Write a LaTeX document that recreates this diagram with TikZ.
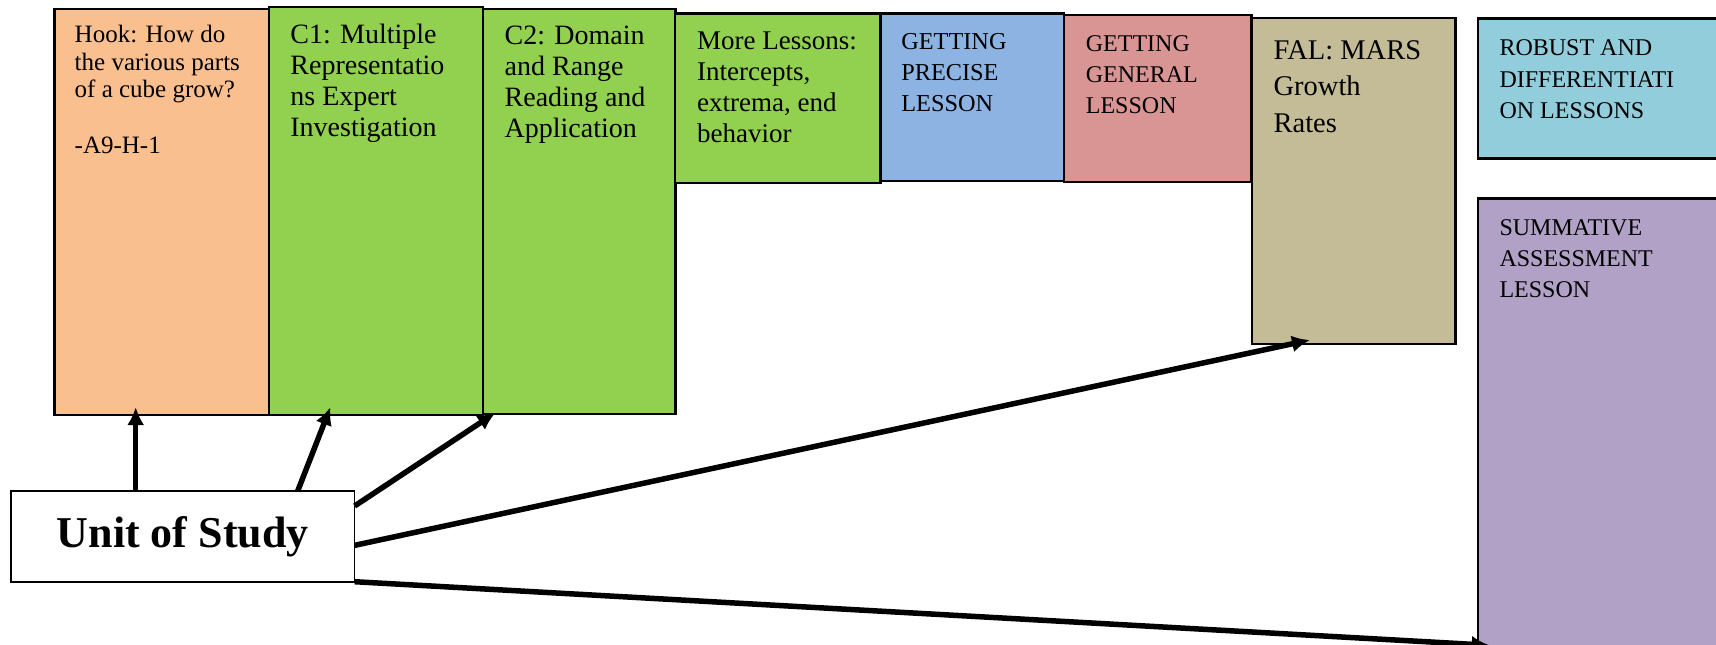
\documentclass[tikz,border=0pt]{standalone}
\usepackage{fontspec}
\setmainfont{Liberation Serif}
\usepackage{xcolor}
\usetikzlibrary{arrows.meta, positioning, calc}

\definecolor{hookcol}{HTML}{FABF8F}
\definecolor{greencol}{HTML}{92D050}
\definecolor{precisecol}{HTML}{8DB3E2}
\definecolor{generalcol}{HTML}{D99594}
\definecolor{falcol}{HTML}{C4BC96}
\definecolor{robustcol}{HTML}{92CDDC}
\definecolor{summcol}{HTML}{B2A1C7}

\begin{document}
\begin{tikzpicture}[x=1pt, y=-1pt,
    box/.style={rectangle, draw, line width=2.4pt, anchor=north west, inner sep=0pt, outer sep=0pt},
    txt/.style={anchor=north west, inner sep=0pt, align=left},
    arr/.style={-{Latex[length=18pt, width=17pt]}, line width=5.5pt}]
    \useasboundingbox (0,0) rectangle (1716,645);
    \clip (0,0) rectangle (1716,645);

    \node[box, fill=hookcol, minimum width=214.3pt, minimum height=406pt] (hook) at (54.5,9) {};
    \node[box, fill=greencol, minimum width=214.2pt, minimum height=408.3pt] (c1) at (268.8,6.7) {};
    \node[box, fill=greencol, minimum width=192.4pt, minimum height=405pt] (c2) at (483,9) {};
    \node[box, fill=greencol, minimum width=205.6pt, minimum height=169.4pt] (more) at (675,13.3) {};
    \node[box, fill=precisecol, minimum width=183.4pt, minimum height=167.7pt] (precise) at (880.6,13.3) {};
    \node[box, fill=generalcol, minimum width=187.5pt, minimum height=167pt] (general) at (1064,14.7) {};
    \node[box, fill=falcol, minimum width=203.4pt, minimum height=326.3pt] (fal) at (1252,17.7) {};
    \node[box, fill=robustcol, minimum width=260pt, minimum height=139.9pt] (robust) at (1477.7,18.5) {};
    \node[box, fill=summcol, minimum width=260pt, minimum height=460pt] (summ) at (1477.7,198.3) {};

    \node[txt, font=\fontsize{25}{27.7}\selectfont, below right=16pt and 20pt of hook.north west] (hooktxt)
        {Hook: How do\\the various parts\\of a cube grow?\\[27.7pt]-A9-H-1};
    \node[txt, font=\fontsize{28}{31}\selectfont, below right=17.5pt and 21.4pt of c1.north west] (c1txt)
        {C1: Multiple\\Representatio\\ns Expert\\Investigation};
    \node[txt, font=\fontsize{28}{30.8}\selectfont, below right=17pt and 21.5pt of c2.north west] (c2txt)
        {C2: Domain\\and Range\\Reading and\\Application};
    \node[txt, font=\fontsize{27}{31.1}\selectfont, below right=18pt and 22pt of more.north west] (moretxt)
        {More Lessons:\\Intercepts,\\extrema, end\\behavior};
    \node[txt, font=\fontsize{24.3}{31.2}\selectfont, below right=20pt and 20.5pt of precise.north west] (precisetxt)
        {GETTING\\PRECISE\\LESSON};
    \node[txt, font=\fontsize{24}{30.8}\selectfont, below right=21pt and 21.7pt of general.north west] (generaltxt)
        {GETTING\\GENERAL\\LESSON};
    \node[txt, font=\fontsize{28.5}{36.8}\selectfont, below right=22.4pt and 21.4pt of fal.north west] (faltxt)
        {FAL: MARS\\Growth\\Rates};
    \node[txt, font=\fontsize{24}{31.5}\selectfont, below right=21pt and 21.6pt of robust.north west] (robusttxt)
        {ROBUST AND\\DIFFERENTIATI\\ON LESSONS};
    \node[txt, font=\fontsize{24}{30.9}\selectfont, below right=21pt and 21.6pt of summ.north west] (summtxt)
        {SUMMATIVE\\ASSESSMENT\\LESSON};

    \node[box, fill=white, line width=1.6pt, minimum width=343.6pt, minimum height=90.7pt,
        font=\fontsize{44}{50}\selectfont\bfseries] (unit) at (11,491) {Unit of Study};

    \draw[arr] ($(unit.north west)+(124.7,0)$) -- ($(hook.south west)+(81.2,-8)$);
    \draw[arr] ($(unit.north west)+(286.7,0)$) -- ($(c1.south west)+(61.7,-8)$);
    \draw[arr] ($(unit.north east)+(0,15)$) -- ($(c2.south west)+(12.5,-1.3)$);
    \draw[arr] ($(unit.east)+(0,9)$) -- ($(fal.south west)+(58,-4)$);
    \draw[arr] (unit.south east) -- ($(summ.south west)+(12,-13)$);
\end{tikzpicture}
\end{document}
